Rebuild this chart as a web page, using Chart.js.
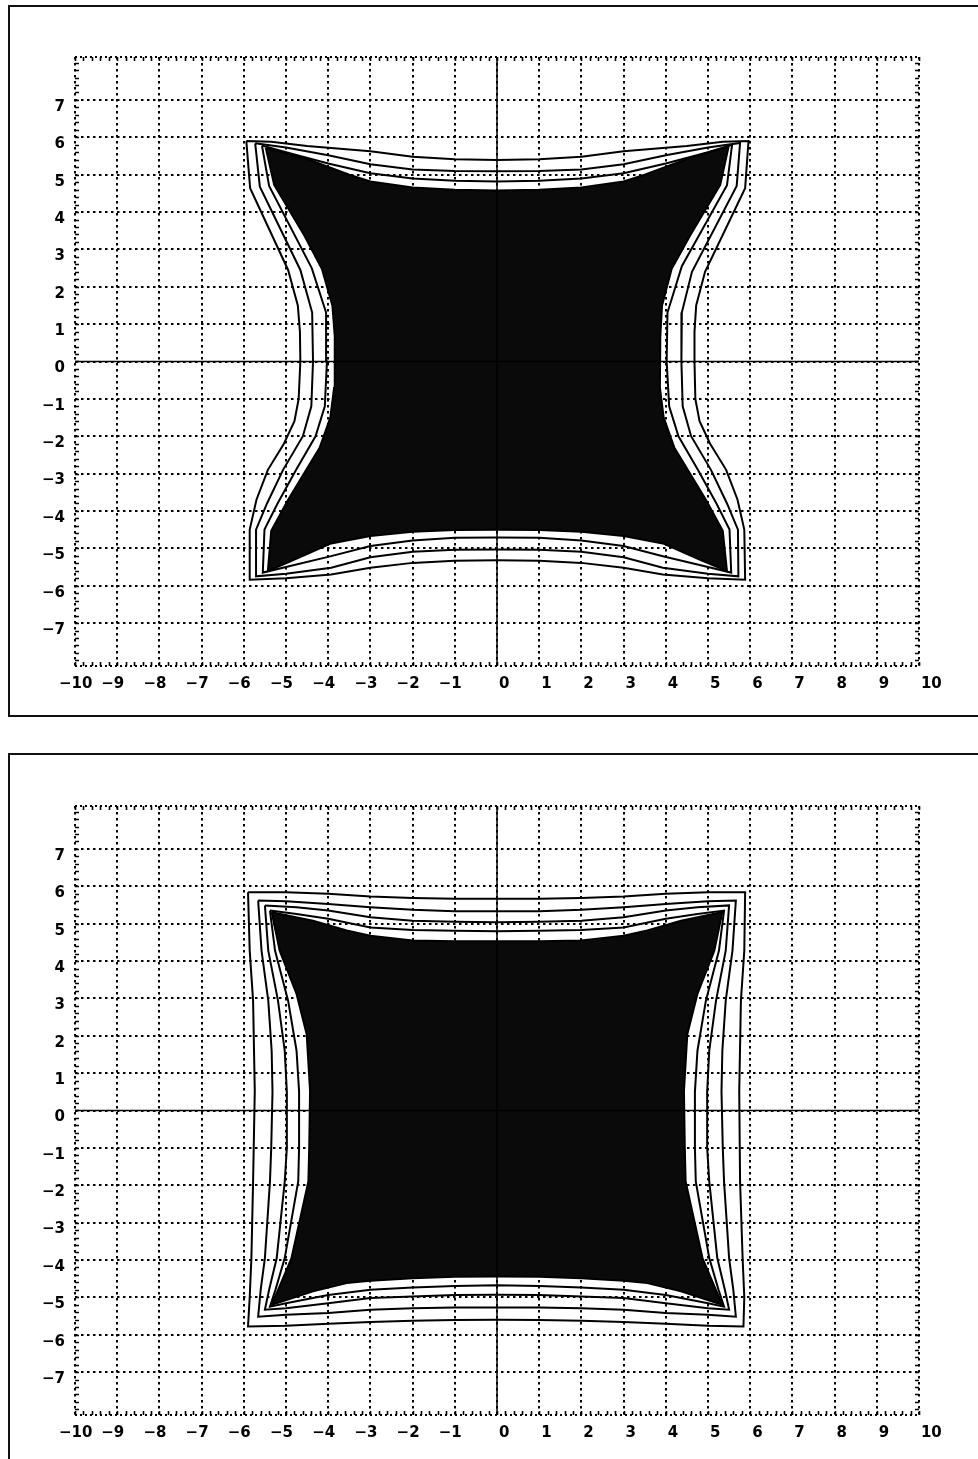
<!DOCTYPE html>
<html>
<head>
<meta charset="utf-8">
<script src="https://cdn.jsdelivr.net/npm/chart.js@4.4.1/dist/chart.umd.min.js"></script>
<style>
body { margin:0; background:#fff; width:978px; height:1459px; overflow:hidden; position:relative; }
.box { position:absolute; left:8px; width:1000px; border:2px solid #111; }
#box1 { top:5px; height:708px; }
#box2 { top:753px; height:800px; }
.plot { position:absolute; left:0; }
#plot1 { top:0; }
#plot2 { top:749px; }
</style>
</head>
<body>
<div class="box" id="box1"></div>
<div class="box" id="box2"></div>
<div class="plot" id="plot1"><canvas id="chart1" width="978" height="720"></canvas></div>
<div class="plot" id="plot2"><canvas id="chart2" width="978" height="720"></canvas></div>
<script>
var xTicks = [-10,-9,-8,-7,-6,-5,-4,-3,-2,-1,0,1,2,3,4,5,6,7,8,9,10];
var yTicks = [-7,-6,-5,-4,-3,-2,-1,0,1,2,3,4,5,6,7];
var xMin = -10, xMax = 10, yMin = -8.15, yMax = 8.15;
var minorStep = 0.2;

// upper plot: dark region and three contour rings
var topFill = [
  [-5.48,5.72],[-4.5,5.42],[-3.5,5.00],[-3,4.82],[-2,4.66],[-1,4.60],[0,4.58],[1,4.60],[2,4.66],[3,4.82],[3.5,5.00],[4.5,5.42],[5.49,5.76],
  [5.29,4.73],[4.58,3.38],[4.14,2.48],[3.91,1.49],[3.87,0.68],[3.86,-0.7],[3.95,-1.5],[4.20,-2.3],[4.52,-2.9],[4.95,-3.7],[5.35,-4.53],[5.45,-5.61],
  [4.8,-5.30],[3.93,-4.87],[3,-4.67],[2,-4.56],[1,-4.51],[0,-4.50],[-1,-4.51],[-2,-4.56],[-3,-4.67],[-3.93,-4.87],[-4.8,-5.30],[-5.43,-5.61],
  [-5.35,-4.53],[-4.95,-3.7],[-4.52,-2.9],[-4.20,-2.3],[-3.95,-1.5],[-3.86,-0.7],[-3.84,0],[-3.85,0.68],[-3.90,1.49],[-4.15,2.48],[-4.57,3.38],[-5.28,4.73],[-5.48,5.72]
];
var topC1 = [
  [-5.94,5.90],[-5.35,5.88],[-4.5,5.77],[-3,5.63],[-2,5.48],[-1,5.41],[0,5.39],[1,5.41],[2,5.48],[3,5.63],[4.5,5.77],[5.35,5.88],[5.96,5.90],
  [5.88,4.64],[4.93,2.40],[4.72,1.50],[4.68,0.80],[4.68,0],[4.70,-1.0],[4.80,-1.6],[5.05,-2.2],[5.43,-2.9],[5.70,-3.7],[5.86,-4.5],[5.88,-5.84],
  [5,-5.80],[3.93,-5.70],[3,-5.52],[2,-5.39],[1,-5.33],[0,-5.32],[-1,-5.33],[-2,-5.39],[-3,-5.52],[-3.93,-5.70],[-5,-5.80],[-5.86,-5.84],
  [-5.86,-4.5],[-5.70,-3.7],[-5.43,-2.9],[-5.05,-2.2],[-4.80,-1.6],[-4.70,-1.0],[-4.66,0],[-4.67,0.80],[-4.72,1.50],[-4.95,2.45],[-5.85,4.64],[-5.94,5.90]
];
var topC2 = [
  [-5.73,5.84],[-5,5.73],[-4,5.52],[-3,5.28],[-2,5.14],[-1,5.10],[0,5.09],[1,5.10],[2,5.14],[3,5.28],[4,5.52],[5,5.73],[5.76,5.85],
  [5.68,4.70],[4.62,2.40],[4.38,1.31],[4.37,0],[4.40,-1.2],[4.60,-2.0],[5.07,-2.9],[5.45,-3.8],[5.71,-4.5],[5.72,-5.75],
  [5,-5.68],[3.93,-5.52],[3,-5.24],[2,-5.09],[1,-5.04],[0,-5.03],[-1,-5.04],[-2,-5.09],[-3,-5.24],[-3.93,-5.52],[-5,-5.68],[-5.71,-5.75],
  [-5.71,-4.5],[-5.45,-3.8],[-5.07,-2.9],[-4.60,-2.0],[-4.40,-1.2],[-4.36,0],[-4.38,1.31],[-4.66,2.45],[-5.62,4.68],[-5.73,5.84]
];
var topC3 = [
  [-5.57,5.78],[-5,5.60],[-4,5.30],[-3,5.04],[-2,4.90],[-1,4.84],[0,4.82],[1,4.84],[2,4.90],[3,5.04],[4,5.30],[5,5.60],[5.57,5.80],
  [5.45,4.72],[4.38,2.55],[4.04,1.31],[4.02,0],[4.08,-1.2],[4.30,-2.0],[4.76,-2.9],[5.20,-3.8],[5.51,-4.5],[5.55,-5.65],
  [5,-5.50],[3.93,-5.21],[3,-4.94],[2,-4.79],[1,-4.72],[0,-4.71],[-1,-4.72],[-2,-4.79],[-3,-4.94],[-3.93,-5.21],[-5,-5.50],[-5.55,-5.65],
  [-5.51,-4.5],[-5.20,-3.8],[-4.76,-2.9],[-4.30,-2.0],[-4.08,-1.2],[-4.03,0],[-4.05,1.31],[-4.39,2.50],[-5.40,4.70],[-5.57,5.78]
];

// lower plot: dark region and four contour rings
var botFill = [
  [-5.34,5.31],[-4.36,5.08],[-3.56,4.82],[-3,4.68],[-2,4.55],[-1,4.53],[0,4.53],[1,4.53],[2,4.55],[3,4.68],[3.56,4.82],[4.36,5.08],[5.34,5.31],
  [5.15,4.28],[4.75,3.12],[4.51,2.04],[4.43,0.52],[4.45,-1.0],[4.47,-1.9],[4.87,-3.95],[5.15,-4.7],[5.34,-5.20],
  [4.36,-4.84],[3.56,-4.62],[3,-4.56],[2,-4.49],[1,-4.45],[0,-4.44],[-1,-4.45],[-2,-4.49],[-3,-4.56],[-3.56,-4.62],[-4.36,-4.84],[-5.34,-5.20],
  [-5.15,-4.7],[-4.87,-3.95],[-4.47,-1.9],[-4.45,-1.0],[-4.43,0.52],[-4.51,2.04],[-4.75,3.12],[-5.15,4.28],[-5.34,5.31]
];
var botC1 = [
  [-5.90,5.84],[-5,5.84],[-4,5.80],[-3,5.73],[-2,5.69],[-1,5.67],[0,5.67],[1,5.67],[2,5.69],[3,5.73],[4,5.80],[5,5.84],[5.88,5.84],
  [5.86,4.28],[5.78,2.94],[5.74,0.52],[5.76,-1.9],[5.82,-3.95],[5.86,-5.0],[5.84,-5.78],
  [5,-5.76],[4,-5.71],[3,-5.66],[2,-5.63],[1,-5.61],[0,-5.60],[-1,-5.61],[-2,-5.63],[-3,-5.66],[-4,-5.71],[-5,-5.76],[-5.90,-5.78],
  [-5.86,-5.0],[-5.82,-3.95],[-5.78,-1.9],[-5.74,0.52],[-5.78,2.94],[-5.86,4.28],[-5.90,5.84]
];
var botC2 = [
  [-5.66,5.62],[-5,5.60],[-4,5.53],[-3,5.44],[-2,5.37],[-1,5.33],[0,5.33],[1,5.33],[2,5.37],[3,5.44],[4,5.53],[5,5.60],[5.66,5.62],
  [5.58,4.28],[5.42,2.94],[5.34,1.6],[5.32,0.5],[5.35,-1.0],[5.38,-1.9],[5.50,-3.95],[5.60,-4.8],[5.66,-5.52],
  [5,-5.47],[4,-5.42],[3,-5.33],[2,-5.29],[1,-5.27],[0,-5.27],[-1,-5.27],[-2,-5.29],[-3,-5.33],[-4,-5.42],[-5,-5.47],[-5.66,-5.52],
  [-5.60,-4.8],[-5.50,-3.95],[-5.38,-1.9],[-5.35,-1.0],[-5.32,0.5],[-5.34,1.6],[-5.42,2.94],[-5.58,4.28],[-5.66,5.62]
];
var botC3 = [
  [-5.50,5.49],[-4.75,5.44],[-4,5.35],[-3,5.17],[-2,5.08],[-1,5.05],[0,5.04],[1,5.05],[2,5.08],[3,5.17],[4,5.35],[4.75,5.44],[5.50,5.49],
  [5.42,4.28],[5.19,2.94],[5.03,1.6],[4.98,0.5],[4.98,-1.0],[5.03,-1.9],[5.22,-3.95],[5.40,-4.8],[5.50,-5.33],
  [5,-5.29],[4,-5.16],[3,-5.02],[2,-4.98],[1,-4.94],[0,-4.93],[-1,-4.94],[-2,-4.98],[-3,-5.02],[-4,-5.16],[-5,-5.29],[-5.50,-5.33],
  [-5.40,-4.8],[-5.22,-3.95],[-5.03,-1.9],[-4.98,-1.0],[-4.98,0.5],[-5.03,1.6],[-5.19,2.94],[-5.42,4.28],[-5.50,5.49]
];
var botC4 = [
  [-5.38,5.35],[-4.75,5.26],[-4,5.13],[-3,4.90],[-2,4.83],[-1,4.81],[0,4.80],[1,4.81],[2,4.83],[3,4.90],[4,5.13],[4.75,5.26],[5.38,5.35],
  [5.26,4.28],[4.95,2.94],[4.75,1.6],[4.69,0.5],[4.69,-1.0],[4.71,-1.9],[5.03,-3.95],[5.25,-4.8],[5.38,-5.25],
  [5,-5.16],[4,-4.94],[3,-4.80],[2,-4.74],[1,-4.70],[0,-4.68],[-1,-4.70],[-2,-4.74],[-3,-4.80],[-4,-4.94],[-5,-5.16],[-5.38,-5.25],
  [-5.25,-4.8],[-5.03,-3.95],[-4.71,-1.9],[-4.69,-1.0],[-4.69,0.5],[-4.75,1.6],[-4.95,2.94],[-5.26,4.28],[-5.38,5.35]
];

var xAxisLine = [[xMin,0],[xMax,0]];
var yAxisLine = [[0,yMin],[0,yMax]];

function pts(arr)
{
    return arr.map(function(p) { return {x: p[0], y: p[1]}; });
}

function minus_label(v)
{
    return v < 0 ? '\u2212' + (-v) : '' + v;
}

// small tick marks round the frame, and dotted top / bottom edges
var frame_ticks = {
    id: 'frame_ticks',
    afterDraw: function(chart) {
        var ctx = chart.ctx, a = chart.chartArea;
        var xs = chart.scales.x, ys = chart.scales.y;
        var len = 4;
        ctx.save();
        ctx.strokeStyle = '#000';
        ctx.lineWidth = 1.6;
        ctx.beginPath();
        for (var v = xMin; v <= xMax + 1e-6; v += minorStep) {
            var px = Math.round(xs.getPixelForValue(v)) + 0.5;
            ctx.moveTo(px, a.top); ctx.lineTo(px, a.top + len);
            ctx.moveTo(px, a.bottom); ctx.lineTo(px, a.bottom - len);
        }
        for (var w = -8; w <= 8 + 1e-6; w += minorStep) {
            if (w < yMin || w > yMax) continue;
            var py = Math.round(ys.getPixelForValue(w)) + 0.5;
            ctx.moveTo(a.left, py); ctx.lineTo(a.left + len, py);
            ctx.moveTo(a.right, py); ctx.lineTo(a.right - len, py);
        }
        ctx.stroke();
        ctx.setLineDash([2, 3]);
        ctx.lineWidth = 2;
        ctx.beginPath();
        ctx.moveTo(a.left, a.top); ctx.lineTo(a.right, a.top);
        ctx.moveTo(a.left, a.bottom); ctx.lineTo(a.right, a.bottom);
        ctx.stroke();
        ctx.restore();
    }
};

function ring(data, w)
{
    return {
        data: pts(data), showLine: true, pointRadius: 0, borderColor: '#000',
        borderWidth: w, fill: false, tension: 0
    };
}

function make_chart(canvas_id, fill_data, rings)
{
    var tickFont = {family: 'DejaVu Sans', weight: 'bold', size: 15};
    var datasets = [];
    datasets.push(ring(xAxisLine, 1.5));
    datasets.push(ring(yAxisLine, 1.5));
    rings.forEach(function(r) { datasets.push(ring(r, 2)); });
    datasets.push({
        data: pts(fill_data), showLine: true, pointRadius: 0, borderColor: '#000',
        borderWidth: 2, backgroundColor: '#0a0a0a', fill: 'shape', tension: 0
    });
    return new Chart(document.getElementById(canvas_id), {
        type: 'scatter',
        data: { datasets: datasets },
        options: {
            responsive: false,
            animation: false,
            events: [],
            layout: { padding: { left: 0, right: 59, top: 57, bottom: 14 } },
            plugins: { legend: { display: false }, tooltip: { enabled: false } },
            scales: {
                x: {
                    type: 'linear', min: xMin, max: xMax,
                    afterBuildTicks: function(s) { s.ticks = xTicks.map(function(v) { return {value: v}; }); },
                    afterFit: function(s) { s.height = 40; },
                    grid: { color: '#000', lineWidth: 2, drawTicks: false },
                    border: { display: false, dash: [2.5, 3.5] },
                    ticks: {
                        color: '#000', font: tickFont, padding: 9, maxRotation: 0, autoSkip: false,
                        align: 'start', labelOffset: -16,
                        callback: function(v) { return v < 0 ? '\u2212' + (-v) : '\u2002\u2007' + v; }
                    }
                },
                y: {
                    type: 'linear', min: yMin, max: yMax,
                    afterBuildTicks: function(s) { s.ticks = yTicks.map(function(v) { return {value: v}; }); },
                    afterFit: function(s) { s.width = 75; },
                    grid: { color: '#000', lineWidth: 2, drawTicks: false },
                    border: { display: false, dash: [2.5, 3.5] },
                    ticks: {
                        color: '#000', font: tickFont, padding: 10, autoSkip: false, labelOffset: 7,
                        callback: minus_label
                    }
                }
            }
        },
        plugins: [frame_ticks]
    });
}

make_chart('chart1', topFill, [topC1, topC2, topC3]);
make_chart('chart2', botFill, [botC1, botC2, botC3, botC4]);
</script>
</body>
</html>
